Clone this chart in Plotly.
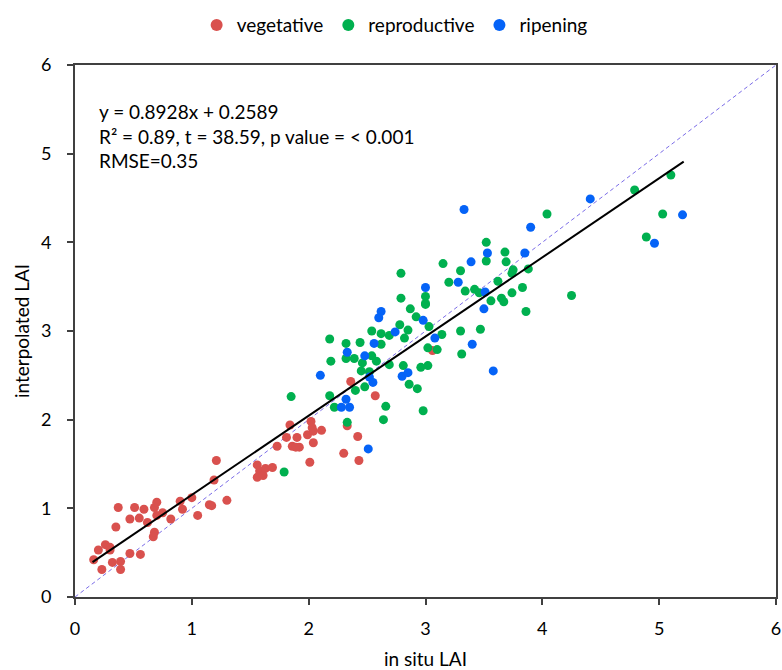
import plotly.graph_objects as go

# ---- data ----
veg_x = [0.16, 0.20, 0.23, 0.26, 0.30, 0.30, 0.32, 0.39, 0.39, 0.35, 0.37, 0.47, 0.47, 0.51,
         0.55, 0.56, 0.59, 0.62, 0.67, 0.68, 0.68, 0.70, 0.70, 0.75, 0.82, 0.90, 0.92, 1.00,
         1.05, 1.15, 1.17, 1.21, 1.19, 1.30, 1.56, 1.58, 1.56, 1.61, 1.63, 1.69, 1.73, 1.81,
         1.84, 1.86, 1.90, 1.92, 1.89, 2.01, 1.99, 2.02, 2.04, 2.04, 2.03, 2.11, 2.36, 2.57,
         2.33, 2.42, 2.30, 2.43, 3.06]
veg_y = [0.42, 0.53, 0.31, 0.59, 0.56, 0.53, 0.39, 0.40, 0.31, 0.79, 1.01, 0.49, 0.88, 1.01,
         0.89, 0.48, 0.99, 0.84, 0.68, 0.73, 1.01, 1.07, 0.92, 0.95, 0.88, 1.08, 0.99, 1.12,
         0.92, 1.04, 1.03, 1.54, 1.32, 1.09, 1.49, 1.42, 1.35, 1.37, 1.45, 1.46, 1.70, 1.80,
         1.94, 1.70, 1.80, 1.69, 1.69, 1.52, 1.83, 1.98, 1.74, 1.87, 1.91, 1.88, 2.43, 2.27,
         1.93, 1.81, 1.62, 1.54, 2.78]

rep_x = [1.85, 1.79, 2.18, 2.19, 2.32, 2.32, 2.39, 2.44, 2.46, 2.45, 2.48, 2.40, 2.18, 2.22,
         2.33, 2.54, 2.62, 2.62, 2.54, 2.58, 2.52, 2.69, 2.78, 2.85, 2.82, 2.87, 2.92, 3.00,
         3.03, 2.69, 2.81, 2.86, 2.93, 2.66, 2.64, 2.98, 2.96, 3.02, 3.02, 3.10, 3.14, 3.30,
         3.31, 2.79, 2.79, 3.00, 3.00, 3.15, 3.20, 3.30, 3.34, 4.04, 3.52, 3.68, 3.52, 3.69,
         3.75, 3.74, 3.88, 3.62, 3.42, 3.46, 3.83, 3.74, 3.65, 3.67, 3.56, 3.86, 4.25, 3.47,
         4.79, 5.10, 5.03, 4.89]
rep_y = [2.26, 1.41, 2.91, 2.66, 2.86, 2.69, 2.69, 2.87, 2.64, 2.55, 2.37, 2.33, 2.27, 2.14,
         1.97, 3.00, 2.97, 2.85, 2.72, 2.66, 2.54, 2.95, 3.07, 3.01, 2.92, 3.25, 3.16, 3.30,
         3.05, 2.62, 2.61, 2.40, 2.35, 2.15, 2.00, 2.10, 2.59, 2.61, 2.81, 2.79, 2.96, 3.00,
         2.74, 3.65, 3.37, 3.39, 3.31, 3.76, 3.55, 3.68, 3.45, 4.32, 4.00, 3.89, 3.79, 3.78,
         3.69, 3.65, 3.70, 3.56, 3.47, 3.43, 3.49, 3.43, 3.37, 3.33, 3.34, 3.22, 3.40, 3.02,
         4.59, 4.76, 4.32, 4.06]

rip_x = [2.62, 2.60, 2.98, 2.74, 2.56, 3.08, 2.33, 2.48, 2.10, 2.52, 2.55, 2.80, 2.85, 2.32,
         2.28, 2.35, 2.51, 3.00, 3.28, 3.33, 3.39, 3.90, 3.53, 3.85, 3.51, 3.50, 3.40, 3.58,
         4.41, 5.20, 4.96]
rip_y = [3.22, 3.15, 3.12, 2.99, 2.86, 2.92, 2.76, 2.72, 2.50, 2.48, 2.42, 2.49, 2.53, 2.23,
         2.14, 2.14, 1.67, 3.49, 3.55, 4.37, 3.78, 4.17, 3.88, 3.88, 3.44, 3.25, 2.85, 2.55,
         4.49, 4.31, 3.99]

slope = 0.8928
intercept = 0.2589
fit_x = [0.15, 5.21]
fit_y = [slope * v + intercept for v in fit_x]
one_to_one = [0, 6]

ticks = [0, 1, 2, 3, 4, 5, 6]
stats_text = "y = 0.8928x + 0.2589<br>R² = 0.89, t = 38.59, p value = < 0.001<br>RMSE=0.35"

FONT = "Lato"
RED = "#D9514E"
GREEN = "#00B04F"
BLUE = "#0563F7"

fig = go.Figure()
fig.add_trace(go.Scatter(x=one_to_one, y=one_to_one, mode="lines",
                         line=dict(color="#7B6CE8", width=1, dash="4px,3px"),
                         showlegend=False, hoverinfo="skip"))
for name, xs, ys, col in [("vegetative", veg_x, veg_y, RED),
                          ("reproductive", rep_x, rep_y, GREEN),
                          ("ripening", rip_x, rip_y, BLUE)]:
    fig.add_trace(go.Scatter(x=xs, y=ys, mode="markers", name=name,
                             marker=dict(color=col, size=9, line=dict(width=0))))
# regression line drawn on the overlaying (label-carrying) y axis, same range
fig.add_trace(go.Scatter(x=fit_x, y=fit_y, mode="lines", yaxis="y2",
                         line=dict(color="black", width=2),
                         showlegend=False, hoverinfo="skip"))

tickfont = dict(family=FONT, size=18, color="black")

fig.update_layout(
    width=782, height=670,
    margin=dict(l=75, r=6, t=62, b=73),
    paper_bgcolor="white", plot_bgcolor="white",
    font=dict(family=FONT, color="black"),
    xaxis=dict(range=[0, 6], tickvals=ticks, showgrid=False, zeroline=False,
               showline=True, linecolor="#404040", linewidth=2, mirror=True,
               ticks="outside", ticklen=6, tickwidth=1.5, tickcolor="#404040",
               ticklabeloverflow="allow", automargin=False, tickfont=tickfont,
               ticklabelstandoff=8,
               title=dict(text="in situ LAI", font=dict(family=FONT, size=19), standoff=22)),
    yaxis=dict(range=[0, 6], tickvals=ticks, showgrid=False, zeroline=False,
               showline=True, linecolor="#404040", linewidth=2, mirror=True,
               ticks="outside", ticklen=6, tickwidth=1.5, tickcolor="#404040",
               showticklabels=False, automargin=False),
    yaxis2=dict(range=[0, 6], tickvals=ticks, overlaying="y", anchor="free", position=0,
                side="left", showgrid=False, zeroline=False, showline=False,
                ticks="outside", ticklen=20, tickcolor="rgba(0,0,0,0)",
                automargin=False, tickfont=tickfont,
                title=dict(text="interpolated LAI", font=dict(family=FONT, size=19), standoff=5)),
    legend=dict(orientation="h", x=0.456, xanchor="center", y=1.075, yanchor="middle",
                font=dict(family=FONT, size=19), itemsizing="constant"),
    showlegend=True,
    annotations=[dict(text=stats_text, xref="paper", yref="paper", x=0.031, y=0.938,
                      xanchor="left", yanchor="top", align="left", showarrow=False,
                      font=dict(family=FONT, size=19, color="black"))],
)

fig.write_html("out.html")
